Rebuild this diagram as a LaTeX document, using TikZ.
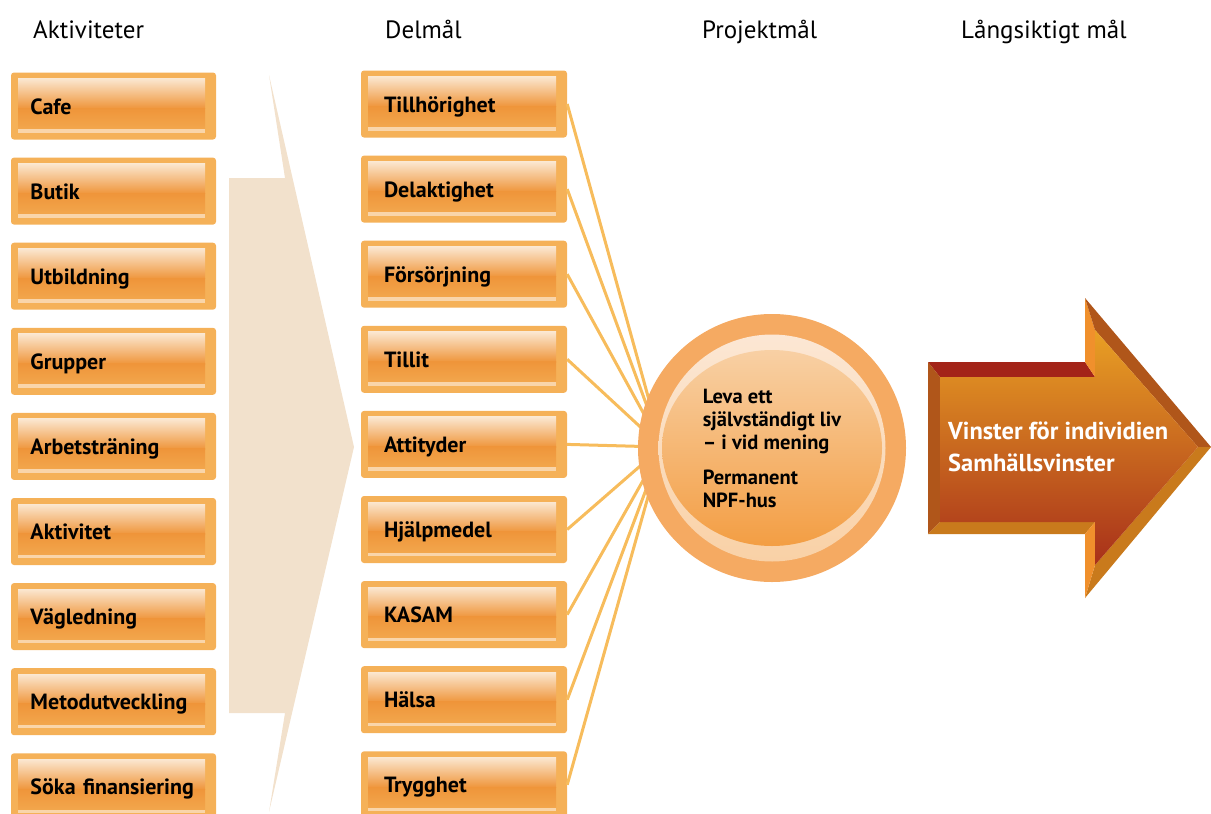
\documentclass[tikz,border=0pt]{standalone}
\usepackage{fontspec}
\setmainfont{PT Sans}
\usetikzlibrary{positioning,calc}

\definecolor{boxouter}{HTML}{F5B158}
\definecolor{boxlight}{HTML}{FBE7D0}
\definecolor{boxpale}{HTML}{F8D2A6}
\definecolor{boxorange}{HTML}{EF953A}
\definecolor{boxmid}{HTML}{F2A64C}
\definecolor{boxstrip}{HTML}{F9D5AA}
\definecolor{beige}{HTML}{F2E1CC}
\definecolor{linjefarg}{HTML}{F7BC5C}
\definecolor{ringfarg}{HTML}{F5AA62}
\definecolor{rimljus}{HTML}{FCE9D8}
\definecolor{rimmork}{HTML}{F9CFA2}
\definecolor{skivljus}{HTML}{F8D0A4}
\definecolor{skivorange}{HTML}{EF9232}
\definecolor{skivbot}{HTML}{F39E44}
\definecolor{pilljus}{HTML}{E9A024}
\definecolor{pilmitt}{HTML}{D06A20}
\definecolor{pilmork}{HTML}{A8301A}
\definecolor{pilrod}{HTML}{A32418}
\definecolor{pilbrun}{HTML}{B0561A}
\definecolor{pilgul}{HTML}{C97A1C}
\definecolor{pilkant}{HTML}{F0902C}

\begin{document}
\begin{tikzpicture}[x=1pt, y=-1pt, node distance=85.1pt, auto]
	% Define styles
	\tikzstyle{titel} = [anchor=base west, inner sep=0pt, font=\fontsize{25}{30}\selectfont]
	\tikzstyle{knapp} = [rectangle, fill=boxouter, rounded corners=3pt, minimum height=67pt, inner ysep=0pt, text height=16pt, text depth=0pt, align=left, font=\bfseries\fontsize{22}{26}\selectfont,
		path picture={
			\coordinate (pa) at ([shift={(7pt,-6pt)}]path picture bounding box.north west);
			\coordinate (pb) at ([shift={(-11pt,7pt)}]path picture bounding box.south east);
			\fill[boxstrip, sharp corners] (pa) rectangle (pb);
			\shade[sharp corners, top color=boxlight, middle color=boxpale, bottom color=boxorange] (pa) rectangle ($(pa-|pb)!0.56!(pb)$);
			\shade[sharp corners, top color=boxorange, bottom color=boxmid] ($(pa)!0.55!(pa|-pb)$) rectangle ([yshift=4pt]pb);
		}]
	\tikzstyle{aktivitet} = [knapp, text width=166pt, inner xsep=19.5pt]
	\tikzstyle{delmal} = [knapp, text width=160pt, inner xsep=23pt]
	\tikzstyle{linje} = [draw=linjefarg, line width=3pt]
	\tikzstyle{projekt} = [circle, fill=ringfarg, minimum size=268pt, inner sep=0pt, align=left, font=\bfseries\fontsize{20.5}{23}\selectfont,
		path picture={
			\shade[top color=rimljus, bottom color=rimmork] (path picture bounding box.center) circle (113.5pt);
			\shade[top color=skivljus, middle color=skivorange, bottom color=skivbot] (path picture bounding box.center) ellipse (110pt and 98pt);
		}]
	
	\useasboundingbox (0,0) rectangle (1211,814);
	
	% Titles
	\node[titel] (t1) at (33,38) {Aktiviteter};
	\node[titel] (t2) at (385,38) {Delmål};
	\node[titel] (t3) at (702,38) {Projektmål};
	\node[titel] (t4) at (961,38) {Långsiktigt mål};
	
	% Background arrow
	\fill[beige] (229,178) -- (285,178) -- (269,75) -- (354,447) -- (269,812) -- (285,713) -- (229,713) -- cycle;
	
	% Activities
	\node[aktivitet] (cafe) at (113.5,106) {Cafe};
	\node[aktivitet, below of=cafe] (butik) {Butik};
	\node[aktivitet, below of=butik] (utbildning) {Utbildning};
	\node[aktivitet, below of=utbildning] (grupper) {Grupper};
	\node[aktivitet, below of=grupper] (arbetstraning) {Arbetsträning};
	\node[aktivitet, below of=arbetstraning] (aktivitet) {Aktivitet};
	\node[aktivitet, below of=aktivitet] (vagledning) {Vägledning};
	\node[aktivitet, below of=vagledning] (metod) {Metodutveckling};
	\node[aktivitet, below of=metod] (finansiering) {Söka finansiering};
	
	% Sub goals
	\node[delmal] (tillhorighet) at (464,104) {Tillhörighet};
	\node[delmal, below of=tillhorighet] (delaktighet) {Delaktighet};
	\node[delmal, below of=delaktighet] (forsorjning) {Försörjning};
	\node[delmal, below of=forsorjning] (tillit) {Tillit};
	\node[delmal, below of=tillit] (attityder) {Attityder};
	\node[delmal, below of=attityder] (hjalpmedel) {Hjälpmedel};
	\node[delmal, below of=hjalpmedel] (kasam) {KASAM};
	\node[delmal, below of=kasam] (halsa) {Hälsa};
	\node[delmal, below of=halsa] (trygghet) {Trygghet};
	
	% Lines
	\coordinate (fokus) at (662,447);
	\draw[linje] (tillhorighet.east) -- (fokus);
	\draw[linje] (delaktighet.east) -- (fokus);
	\draw[linje] (forsorjning.east) -- (fokus);
	\draw[linje] (tillit.east) -- (fokus);
	\draw[linje] (attityder.east) -- (fokus);
	\draw[linje] (hjalpmedel.east) -- (fokus);
	\draw[linje] (kasam.east) -- (fokus);
	\draw[linje] (halsa.east) -- (fokus);
	\draw[linje] (trygghet.east) -- (fokus);
	
	% Project goal
	\node[projekt] (projekt) at (772,448) {Leva ett\\självständigt liv\\– i vid mening\\[12pt]Permanent\\NPF-hus};
	
	% Long term arrow
	\fill[pilrod] (928,362) -- (1085,362) -- (1095,377) -- (940,377) -- cycle;
	\fill[pilbrun] (928,362) -- (940,377) -- (940,522) -- (928,534) -- cycle;
	\fill[pilgul] (928,534) -- (940,522) -- (1095,522) -- (1085,534) -- cycle;
	\fill[pilkant] (1085,362) -- (1085,298) -- (1095,330) -- (1095,377) -- cycle;
	\fill[pilbrun] (1085,298) -- (1211,447) -- (1198,447) -- (1095,330) -- cycle;
	\fill[pilgul] (1211,447) -- (1085,598) -- (1095,565) -- (1198,447) -- cycle;
	\fill[pilkant] (1085,598) -- (1085,534) -- (1095,522) -- (1095,565) -- cycle;
	\shade[top color=pilljus, middle color=pilmitt, bottom color=pilmork] (940,377) -- (1095,377) -- (1095,330) -- (1198,447) -- (1095,565) -- (1095,522) -- (940,522) -- cycle;
	\node[anchor=west, align=left, text=white, font=\bfseries\fontsize{24.5}{32}\selectfont, inner sep=0pt] (vinst) at (948,447) {Vinster för individien\\Samhällsvinster};
\end{tikzpicture}
\end{document}
